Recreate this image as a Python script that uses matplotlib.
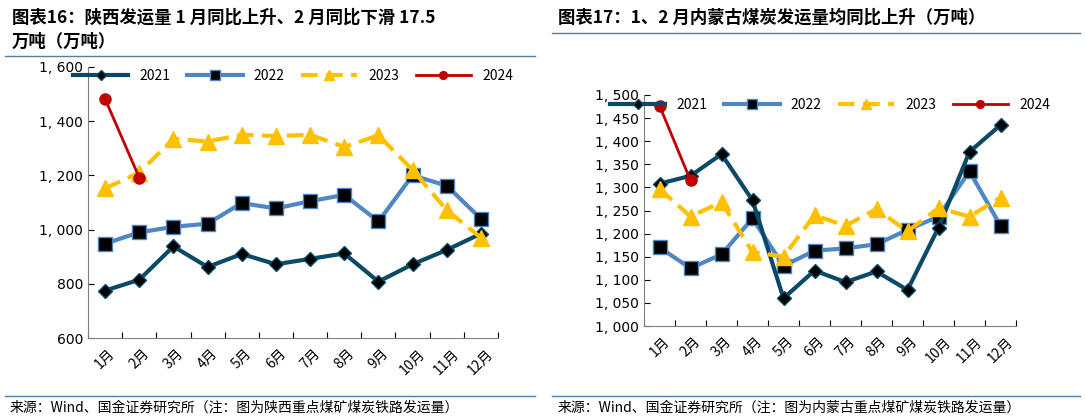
import matplotlib
matplotlib.use("Agg")
import matplotlib.pyplot as plt
import numpy as np
from matplotlib.lines import Line2D

plt.rcParams['font.family'] = ['Noto Sans CJK SC']

months = [f"{i}月" for i in range(1, 13)]
sx_2021 = [775, 815, 938, 862, 910, 872, 892, 912, 808, 872, 925, 985]
sx_2022 = [948, 990, 1010, 1022, 1098, 1078, 1105, 1128, 1030, 1200, 1162, 1040]
sx_2023 = [1152, 1210, 1335, 1325, 1350, 1345, 1350, 1305, 1348, 1220, 1072, 970]
sx_2024 = [1482, 1192]
nm_2021 = [1308, 1325, 1372, 1272, 1060, 1120, 1095, 1118, 1078, 1213, 1377, 1435]
nm_2022 = [1170, 1125, 1155, 1233, 1130, 1163, 1168, 1177, 1208, 1237, 1335, 1217]
nm_2023 = [1297, 1237, 1268, 1160, 1150, 1240, 1217, 1253, 1205, 1255, 1237, 1278]
nm_2024 = [1477, 1315]

W, H = 1085, 420
fig = plt.figure(figsize=(W/100, H/100), dpi=100)

def draw(ax, d21, d22, d23, d24, ylim, step):
    x = np.arange(12)
    ax.plot(x, d21, color='#0B4A66', lw=3, marker='D', ms=7, mfc='black', mec='#0B4A66', zorder=3, label='2021')
    ax.plot(x, d22, color='#4F86C6', lw=3, marker='s', ms=10, mfc='black', mec='#4F86C6', zorder=2, label='2022')
    ax.plot(x, d23, color='#FFC000', lw=3, ls=(0, (4, 2)), marker='^', ms=11, mfc='#FFC000', mec='#FFC000', zorder=4, label='2023')
    ax.plot(np.arange(len(d24)), d24, color='#C00000', lw=2, marker='o', ms=8, zorder=5, label='2024')
    ax.set_xlim(-0.5, 11.5)
    ax.set_ylim(*ylim)
    ax.set_yticks(np.arange(ylim[0], ylim[1]+1, step))
    ax.set_yticklabels([f"{int(v):,}".replace(",", ", ") for v in np.arange(ylim[0], ylim[1]+1, step)], fontsize=10, fontfamily='DejaVu Sans')
    ax.set_xticks(np.arange(-0.5, 12, 1), minor=False)
    ax.set_xticklabels([])
    ax.set_xticks(x, minor=True)
    ax.set_xticklabels(months, minor=True, rotation=45, fontsize=10)
    ax.tick_params(axis='x', which='minor', length=0, pad=6)
    ax.tick_params(axis='x', which='major', length=4, direction='in')
    ax.tick_params(axis='y', length=4, direction='in')
    for s in ['top', 'right']:
        ax.spines[s].set_visible(False)
    for s in ['left', 'bottom']:
        ax.spines[s].set_color('#808080')
    ax.legend(loc='upper center', ncol=4, frameon=False, fontsize=10, handlelength=4,
              bbox_to_anchor=(0.5, 1.04), columnspacing=1.2, markerscale=0.7)

ax1 = fig.add_axes([88/W, 1-338/H, 410/W, 271/H])
draw(ax1, sx_2021, sx_2022, sx_2023, sx_2024, (600, 1600), 200)
ax2 = fig.add_axes([644/W, 1-326/H, 372/W, 231/H])
draw(ax2, nm_2021, nm_2022, nm_2023, nm_2024, (1000, 1500), 50)

fig.text(12/W, 1-18/H, "图表16：陕西发运量 1 月同比上升、2 月同比下滑 17.5", fontsize=12.5, fontweight='bold', style='italic', va='center')
fig.text(12/W, 1-42/H, "万吨（万吨）", fontsize=12.5, fontweight='bold', style='italic', va='center')
fig.text(558/W, 1-18/H, "图表17：1、2 月内蒙古煤炭发运量均同比上升（万吨）", fontsize=12.5, fontweight='bold', style='italic', va='center')
fig.add_artist(Line2D([5/W, 535/W], [1-56/H, 1-56/H], color='#4F7FA8', lw=1))
fig.add_artist(Line2D([552/W, 1080/W], [1-33/H, 1-33/H], color='#4F7FA8', lw=1))
fig.add_artist(Line2D([5/W, 535/W], [1-396/H, 1-396/H], color='#4F7FA8', lw=1))
fig.add_artist(Line2D([552/W, 1080/W], [1-396/H, 1-396/H], color='#4F7FA8', lw=1))
fig.text(10/W, 1-408/H, "来源：Wind、国金证券研究所（注：图为陕西重点煤矿煤炭铁路发运量）", fontsize=10, va='center')
fig.text(558/W, 1-408/H, "来源：Wind、国金证券研究所（注：图为内蒙古重点煤矿煤炭铁路发运量）", fontsize=10, va='center')

fig.savefig("out.png", dpi=100)
